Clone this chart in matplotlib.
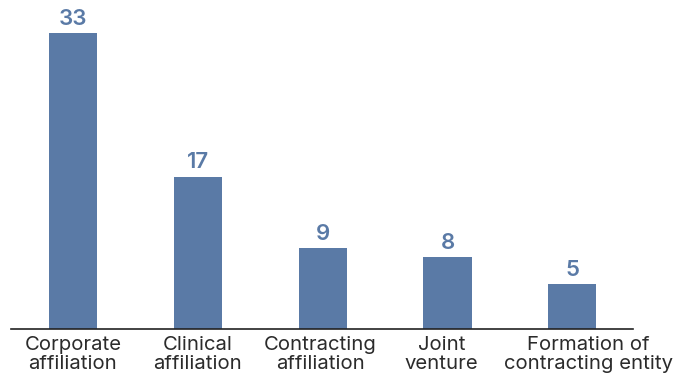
import matplotlib
matplotlib.use("Agg")
import matplotlib.pyplot as plt
import matplotlib.transforms as mtransforms

categories = ["Corporate\naffiliation", "Clinical\naffiliation", "Contracting\naffiliation",
              "Joint\nventure", "Formation of\ncontracting entity"]
values = [33, 17, 9, 8, 5]

bar_color = "#5a7aa6"
text_color = "#2b2b2b"

plt.rcParams["font.family"] = ["Inter", "DejaVu Sans"]

fig = plt.figure(figsize=(6.83, 3.79), dpi=100)
ax = fig.add_axes([0.016, 0.132, 0.911, 0.868])

x = range(len(values))
bars = ax.bar(x, values, width=0.385, color=bar_color, zorder=2)

for xi, v in zip(x, values):
    ax.annotate(str(v), (xi, v), xytext=(0, 3), textcoords="offset points",
                ha="center", va="bottom", fontsize=16, fontweight="semibold",
                color=bar_color)

ax.set_xlim(-0.497, 4.487)
ax.set_ylim(0, 36.7)
ax.set_xticks(list(x))
ax.set_xticklabels(categories, fontsize=14.6, color=text_color, linespacing=1.1)
ax.tick_params(axis="x", length=0, pad=5)
ax.set_yticks([])

# small horizontal nudges (in pixels) for the last two category labels
nudges = [0, 0, -2, -6, 16]
for lbl, dx in zip(ax.get_xticklabels(), nudges):
    if dx:
        lbl.set_transform(lbl.get_transform()
                          + mtransforms.ScaledTranslation(dx / 100, 0, fig.dpi_scale_trans))

for side in ["top", "right", "left"]:
    ax.spines[side].set_visible(False)
ax.spines["bottom"].set_color("#222222")
ax.spines["bottom"].set_linewidth(1.2)

fig.savefig("out.png", dpi=100)
